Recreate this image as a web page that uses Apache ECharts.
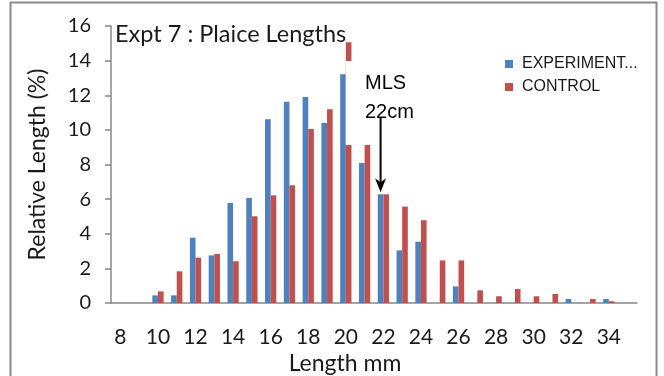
<!DOCTYPE html>
<html><head><meta charset="utf-8">
<script src="https://cdn.jsdelivr.net/npm/echarts@6/dist/echarts.min.js"></script>
<style>html,body{margin:0;padding:0;background:#fff}#c{width:664px;height:376px}</style>
</head><body><div id="c"></div>
<script>
// Length classes (mm)
const categories = ['8','9','10','11','12','13','14','15','16','17','18','19','20','21','22','23','24','25','26','27','28','29','30','31','32','33','34','35'];
// Relative length (%)
const experimentValues = [null,null,0.44,0.44,3.77,2.75,5.78,6.07,10.61,11.63,11.9,10.4,13.21,8.09,6.28,3.04,3.54,null,0.96,null,null,null,null,null,0.23,null,0.23,null];
const controlValues = [null,null,0.67,1.83,2.62,2.83,2.41,5.01,6.22,6.8,10.05,11.19,15.06,9.13,6.28,5.57,4.78,2.46,2.46,0.73,0.39,0.81,0.39,0.52,null,0.23,0.1,null];
const seriesNames = ['EXPERIMENT...', 'CONTROL'];
const yMin = 0, yMax = 16, yStep = 2;
const mlsCategory = '22';
const mlsValue = 6.28;
const titleText = 'Expt 7 : Plaice Lengths';
const xName = 'Length mm';
const yName = 'Relative Length (%)';

const axisGray = '#878787';
const chart = echarts.init(document.getElementById('c'), null, {renderer: 'canvas'});
const option = {
  animation: false,
  backgroundColor: '#fff',
  grid: {left: 111, right: 27, top: 26, bottom: 73, containLabel: false},
  legend: {
    orient: 'vertical', left: 500, top: 51, itemWidth: 8, itemHeight: 8, itemGap: 7,
    icon: 'rect',
    textStyle: {fontFamily: 'Liberation Sans', fontSize: 16, color: '#1a1a1a', padding: [0,0,0,4]},
    data: seriesNames
  },
  xAxis: {
    type: 'category', data: categories, boundaryGap: true,
    axisLine: {lineStyle: {color: axisGray, width: 1.5}},
    axisTick: {interval: 0, length: 8, lineStyle: {color: axisGray, width: 1.5}},
    axisLabel: {interval: 1, margin: 24, fontFamily: 'Lato', fontSize: 21, color: '#1a1a1a'},
    splitLine: {show: false}
  },
  yAxis: {
    type: 'value', min: yMin, max: yMax, interval: yStep,
    name: yName, nameLocation: 'middle', nameGap: 62, nameRotate: 90,
    nameTextStyle: {fontFamily: 'Lato', fontSize: 23, color: '#1a1a1a'},
    axisLine: {show: true, lineStyle: {color: axisGray, width: 1.5}},
    axisTick: {show: true, length: 6, lineStyle: {color: axisGray, width: 1.5}},
    axisLabel: {margin: 20, fontFamily: 'Lato', fontSize: 20, color: '#1a1a1a'},
    splitLine: {show: false}
  },
  series: [
    {name: seriesNames[0], type: 'bar', data: experimentValues, barGap: '0%', barCategoryGap: '40%', itemStyle: {color: '#4F81BD'}},
    {name: seriesNames[1], type: 'bar', data: controlValues, barGap: '0%', barCategoryGap: '40%', itemStyle: {color: '#C0504D'}}
  ]
};
chart.setOption(option);

// Annotations (positions derived from the axes where they point at data)
const idx = categories.indexOf(mlsCategory);
const center = chart.convertToPixel({xAxisIndex: 0}, idx);
const band = 526 / categories.length;
const ax = center - band * 0.15; // centre of the first bar in the category
const tipY = chart.convertToPixel({yAxisIndex: 0}, mlsValue) - 2;

chart.setOption({
  graphic: [
    {type: 'rect', z: 200, silent: true, shape: {x: 10.5, y: 2.5, width: 646, height: 420},
      style: {fill: 'none', stroke: '#8a8a8a', lineWidth: 2}},
    {type: 'text', z: 200, x: 115, y: 34, style: {text: titleText, font: '23.5px Lato', fill: '#1a1a1a', textAlign: 'left', textVerticalAlign: 'middle'}},
    {type: 'text', z: 200, x: 345, y: 364, style: {text: xName, font: '23px Lato', fill: '#1a1a1a', textAlign: 'center', textVerticalAlign: 'middle'}},
    {type: 'rect', z: 150, silent: true, shape: {x: 345.8, y: 61, width: 75, height: 84}, style: {fill: '#fff'}},
    {type: 'text', z: 200, x: 365, y: 83.5, style: {text: 'MLS', font: '20px "Liberation Sans"', fill: '#000', textAlign: 'left', textVerticalAlign: 'middle'}},
    {type: 'text', z: 200, x: 365, y: 112.5, style: {text: '22cm', font: '20px "Liberation Sans"', fill: '#000', textAlign: 'left', textVerticalAlign: 'middle'}},
    {type: 'line', z: 210, shape: {x1: ax, y1: 118, x2: ax, y2: tipY - 8}, style: {stroke: '#000', lineWidth: 2}},
    {type: 'polygon', z: 210, shape: {points: [[ax, tipY], [ax - 5.5, tipY - 14], [ax, tipY - 10], [ax + 5.5, tipY - 14]]}, style: {fill: '#000'}}
  ]
});
</script></body></html>
